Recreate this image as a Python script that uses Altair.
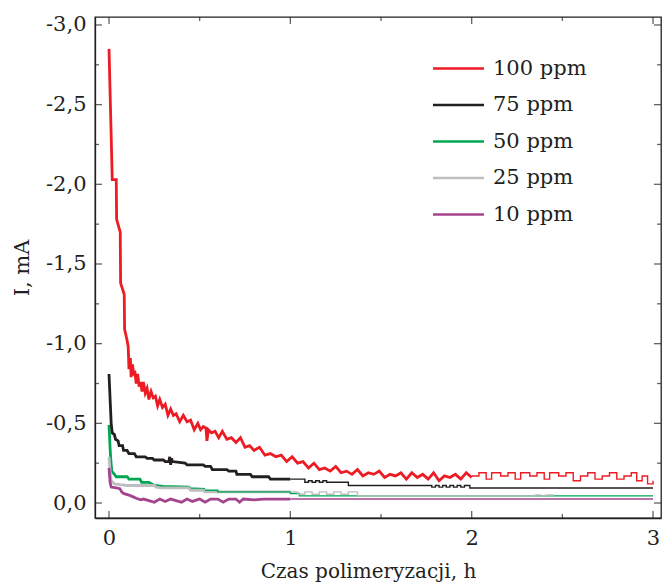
import altair as alt
import pandas as pd

SERIES = ["100 ppm", "\u200775 ppm", "\u200750 ppm", "\u200725 ppm", "\u200710 ppm"]
COLORS = ["#ed1c24", "#231f20", "#00a651", "#bcbec0", "#a4448f"]

# ---- dense recording part (thick line) : time [h], current [mA]
red_t = [0.000, 0.018, 0.040, 0.042, 0.062, 0.064, 0.084, 0.086, 0.100, 0.106, 0.110, 0.118, 0.122,
         0.130, 0.136, 0.142, 0.150, 0.158, 0.166, 0.174, 0.182, 0.190, 0.200, 0.210, 0.220, 0.232,
         0.244, 0.256, 0.268, 0.280, 0.295, 0.310, 0.325, 0.340, 0.355, 0.370, 0.390, 0.410, 0.430,
         0.450, 0.470, 0.490, 0.505, 0.520, 0.535, 0.540, 0.548, 0.565, 0.585, 0.605, 0.625, 0.650,
         0.675, 0.700, 0.725, 0.750, 0.775, 0.800, 0.830, 0.860, 0.890, 0.920, 0.950, 0.980, 1.010,
         1.040, 1.070, 1.100, 1.130, 1.160, 1.190, 1.220, 1.250, 1.280, 1.310, 1.340, 1.370, 1.400,
         1.430, 1.460, 1.490, 1.520, 1.550, 1.580, 1.610, 1.640, 1.670, 1.700, 1.730, 1.760, 1.790,
         1.820, 1.850, 1.880, 1.910, 1.940, 1.970, 2.000]
red_i = [-2.85, -2.03, -2.03, -1.78, -1.70, -1.38, -1.31, -1.09, -1.02, -0.98, -0.84, -0.91, -0.79,
         -0.87, -0.80, -0.83, -0.75, -0.81, -0.73, -0.76, -0.70, -0.76, -0.69, -0.72, -0.65, -0.70,
         -0.66, -0.67, -0.61, -0.65, -0.60, -0.62, -0.55, -0.59, -0.55, -0.56, -0.51, -0.55, -0.51,
         -0.52, -0.46, -0.50, -0.46, -0.48, -0.47, -0.39, -0.46, -0.44, -0.45, -0.41, -0.45, -0.40,
         -0.41, -0.38, -0.41, -0.35, -0.36, -0.33, -0.35, -0.30, -0.31, -0.29, -0.30, -0.26, -0.29,
         -0.25, -0.26, -0.22, -0.25, -0.21, -0.22, -0.20, -0.23, -0.19, -0.20, -0.18, -0.21, -0.17,
         -0.19, -0.18, -0.20, -0.16, -0.18, -0.17, -0.19, -0.15, -0.19, -0.16, -0.18, -0.15, -0.19,
         -0.14, -0.17, -0.16, -0.18, -0.15, -0.19, -0.16]

black_t = [0.000, 0.012, 0.018, 0.030, 0.036, 0.050, 0.056, 0.075, 0.080, 0.100, 0.110, 0.140, 0.150,
           0.200, 0.210, 0.240, 0.250, 0.300, 0.310, 0.330, 0.335, 0.340, 0.345, 0.350, 0.420, 0.430,
           0.520, 0.530, 0.560, 0.570, 0.650, 0.660, 0.700, 0.705, 0.780, 0.790, 0.880, 0.890, 1.000]
black_i = [-0.81, -0.50, -0.44, -0.43, -0.40, -0.39, -0.36, -0.36, -0.33, -0.33, -0.31, -0.31, -0.29,
           -0.29, -0.28, -0.28, -0.27, -0.27, -0.26, -0.26, -0.29, -0.24, -0.28, -0.26, -0.25, -0.24,
           -0.24, -0.23, -0.23, -0.21, -0.21, -0.20, -0.20, -0.18, -0.18, -0.165, -0.165, -0.15, -0.15]

green_t = [0.000, 0.008, 0.015, 0.030, 0.040, 0.100, 0.110, 0.170, 0.180, 0.220, 0.250, 0.300, 0.440,
           0.450, 0.530]
green_i = [-0.49, -0.30, -0.20, -0.18, -0.165, -0.165, -0.15, -0.15, -0.13, -0.13, -0.11, -0.105, -0.10,
           -0.09, -0.085]

grey_t = [0.000, 0.006, 0.012, 0.030, 0.060, 0.100, 0.250, 0.260, 0.290, 0.440, 0.450, 0.520, 0.530, 1.000]
grey_i = [-0.29, -0.20, -0.14, -0.12, -0.115, -0.11, -0.11, -0.10, -0.095, -0.095, -0.08, -0.08, -0.07, -0.07]

purple_t = [0.000, 0.006, 0.012, 0.040, 0.060, 0.070, 0.080, 0.110, 0.130, 0.150, 0.175, 0.190, 0.220,
            0.250, 0.280, 0.310, 0.340, 0.370, 0.400, 0.430, 0.460, 0.500, 0.530, 0.560, 0.600, 0.630,
            0.660, 0.700, 0.720, 0.740, 0.800, 0.850, 0.900, 1.000]
purple_i = [-0.22, -0.13, -0.10, -0.095, -0.09, -0.07, -0.06, -0.05, -0.04, -0.03, -0.02, -0.025, -0.015,
            -0.005, -0.025, -0.01, -0.025, -0.015, -0.005, -0.025, -0.01, -0.025, -0.005, -0.025, -0.025,
            -0.005, -0.025, -0.025, -0.005, -0.025, -0.02, -0.025, -0.025, -0.025]

# ---- sparse recording part (thin stepped line)
red2_t = [2.00, 2.04, 2.08, 2.11, 2.16, 2.20, 2.24, 2.27, 2.32, 2.36, 2.40, 2.43, 2.48, 2.52, 2.56,
          2.60, 2.64, 2.68, 2.72, 2.76, 2.80, 2.84, 2.88, 2.91, 2.94, 2.97, 3.00]
red2_i = [-0.17, -0.19, -0.15, -0.19, -0.17, -0.19, -0.15, -0.19, -0.17, -0.19, -0.15, -0.19, -0.17,
          -0.19, -0.14, -0.17, -0.19, -0.15, -0.17, -0.19, -0.15, -0.17, -0.19, -0.14, -0.17, -0.12, -0.14]

black2_t = [1.000, 1.080, 1.100, 1.120, 1.140, 1.160, 1.180, 1.200, 1.320, 1.780, 1.800, 1.820, 1.840,
            1.860, 1.880, 1.900, 1.920, 1.940, 1.960, 1.990, 3.000]
black2_i = [-0.15, -0.13, -0.14, -0.13, -0.14, -0.13, -0.14, -0.13, -0.11, -0.10, -0.11, -0.10, -0.11,
            -0.10, -0.11, -0.10, -0.11, -0.10, -0.11, -0.094, -0.094]

green2_t = [0.530, 0.600, 1.000, 1.050, 3.000]
green2_i = [-0.08, -0.07, -0.06, -0.045, -0.045]

grey2_t = [1.000, 1.040, 1.080, 1.120, 1.160, 1.200, 1.240, 1.280, 1.320, 1.370, 2.350, 2.380, 2.410, 2.450]
grey2_i = [-0.07, -0.055, -0.07, -0.055, -0.07, -0.055, -0.07, -0.055, -0.07, -0.045, -0.05, -0.045,
           -0.05, -0.045]

purple2_t = [1.000, 3.000]
purple2_i = [-0.025, -0.025]

X_MAJOR = [0, 1, 2, 3]
X_MINOR = [0.5, 1.5, 2.5]
Y_MAJOR = [0.0, -0.5, -1.0, -1.5, -2.0, -2.5, -3.0]
Y_MINOR = [-0.25, -0.75, -1.25, -1.75, -2.25, -2.75]

W, H = 566, 501
INK = "#231f20"
FONT = "DejaVu Serif"


def frame(parts):
    rows = []
    for name, ts, vs in parts:
        for k, (t, v) in enumerate(zip(ts, vs)):
            rows.append({"series": name, "t": t, "i": v, "k": k})
    return pd.DataFrame(rows)


dense = frame([(SERIES[2], green_t, green_i), (SERIES[3], grey_t, grey_i),
               (SERIES[4], purple_t, purple_i), (SERIES[1], black_t, black_i),
               (SERIES[0], red_t, red_i)])
sparse = frame([(SERIES[2], green2_t, green2_i), (SERIES[3], grey2_t, grey2_i),
                (SERIES[4], purple2_t, purple2_i), (SERIES[1], black2_t, black2_i),
                (SERIES[0], red2_t, red2_i)])

xscale = alt.Scale(domain=[-0.0772, 3.044], nice=False, zero=False)
yscale = alt.Scale(domain=[0.094, -3.05], nice=False, zero=False)
cscale = alt.Scale(domain=SERIES, range=COLORS)

legend = alt.Legend(
    title=None, orient="none", legendX=352, legendY=40, padding=0,
    symbolType="M-2.5,0H2.5", symbolSize=416, symbolStrokeWidth=2.6,
    labelFont=FONT, labelFontSize=21, labelColor=INK, labelOffset=23,
    rowPadding=14.5,
)

xaxis = alt.Axis(values=X_MAJOR, format="d", ticks=False, grid=False, labelPadding=9,
                 labelFont=FONT, labelFontSize=21, labelColor=INK,
                 domainColor=INK, domainWidth=1.3,
                 title="Czas polimeryzacji, h", titleFont=FONT, titleFontSize=20,
                 titleFontWeight="normal", titleColor=INK, titleX=273, titleY=59,
                 titleAlign="center", titleBaseline="alphabetic")
yaxis = alt.Axis(values=Y_MAJOR, ticks=False, grid=False, labelPadding=9,
                 labelExpr="(datum.value < 0 ? '-' : '') + replace(format(abs(datum.value), '.1f'), '.', ',')",
                 labelFont=FONT, labelFontSize=21, labelColor=INK,
                 domainColor=INK, domainWidth=1.3,
                 title="I, mA", titleFont=FONT, titleFontSize=21, titleFontWeight="normal",
                 titleColor=INK, titleX=-73, titleY=H / 2, titleAngle=270,
                 titleAlign="center", titleBaseline="middle")

thick = alt.Chart(dense).mark_line(strokeWidth=2.8, clip=True).encode(
    x=alt.X("t:Q", scale=xscale, axis=xaxis),
    y=alt.Y("i:Q", scale=yscale, axis=yaxis),
    color=alt.Color("series:N", scale=cscale, legend=legend),
    order="k:Q",
)
thin = alt.Chart(sparse).mark_line(strokeWidth=1.4, interpolate="step-after", clip=True).encode(
    x=alt.X("t:Q", scale=xscale, axis=xaxis),
    y=alt.Y("i:Q", scale=yscale, axis=yaxis),
    color=alt.Color("series:N", scale=cscale, legend=legend),
    order="k:Q",
)


def xticks(vals, size, ypos):
    return alt.Chart(pd.DataFrame({"t": vals})).mark_tick(
        orient="vertical", size=size, thickness=1.3, color=INK, clip=True
    ).encode(x=alt.X("t:Q", scale=xscale, axis=xaxis), y=alt.value(ypos))


def yticks(vals, size, xpos):
    return alt.Chart(pd.DataFrame({"i": vals})).mark_tick(
        orient="horizontal", size=size, thickness=1.3, color=INK, clip=True
    ).encode(y=alt.Y("i:Q", scale=yscale, axis=yaxis), x=alt.value(xpos))


ticks = [
    xticks(X_MAJOR, 14, H), xticks(X_MINOR, 8, H), xticks(X_MAJOR, 14, 0), xticks(X_MINOR, 8, 0),
    yticks(Y_MAJOR, 14, 0), yticks(Y_MINOR, 8, 0), yticks(Y_MAJOR, 14, W), yticks(Y_MINOR, 8, W),
]

chart = alt.layer(thick, thin, *ticks).properties(
    width=W, height=H,
    autosize=alt.AutoSizeParams(type="none"),
    padding={"left": 95, "top": 17, "right": 4, "bottom": 68},
    background="white",
).configure_view(stroke=INK, strokeWidth=1.3)

chart.save("out.html", embed_options={"renderer": "svg", "actions": False})
